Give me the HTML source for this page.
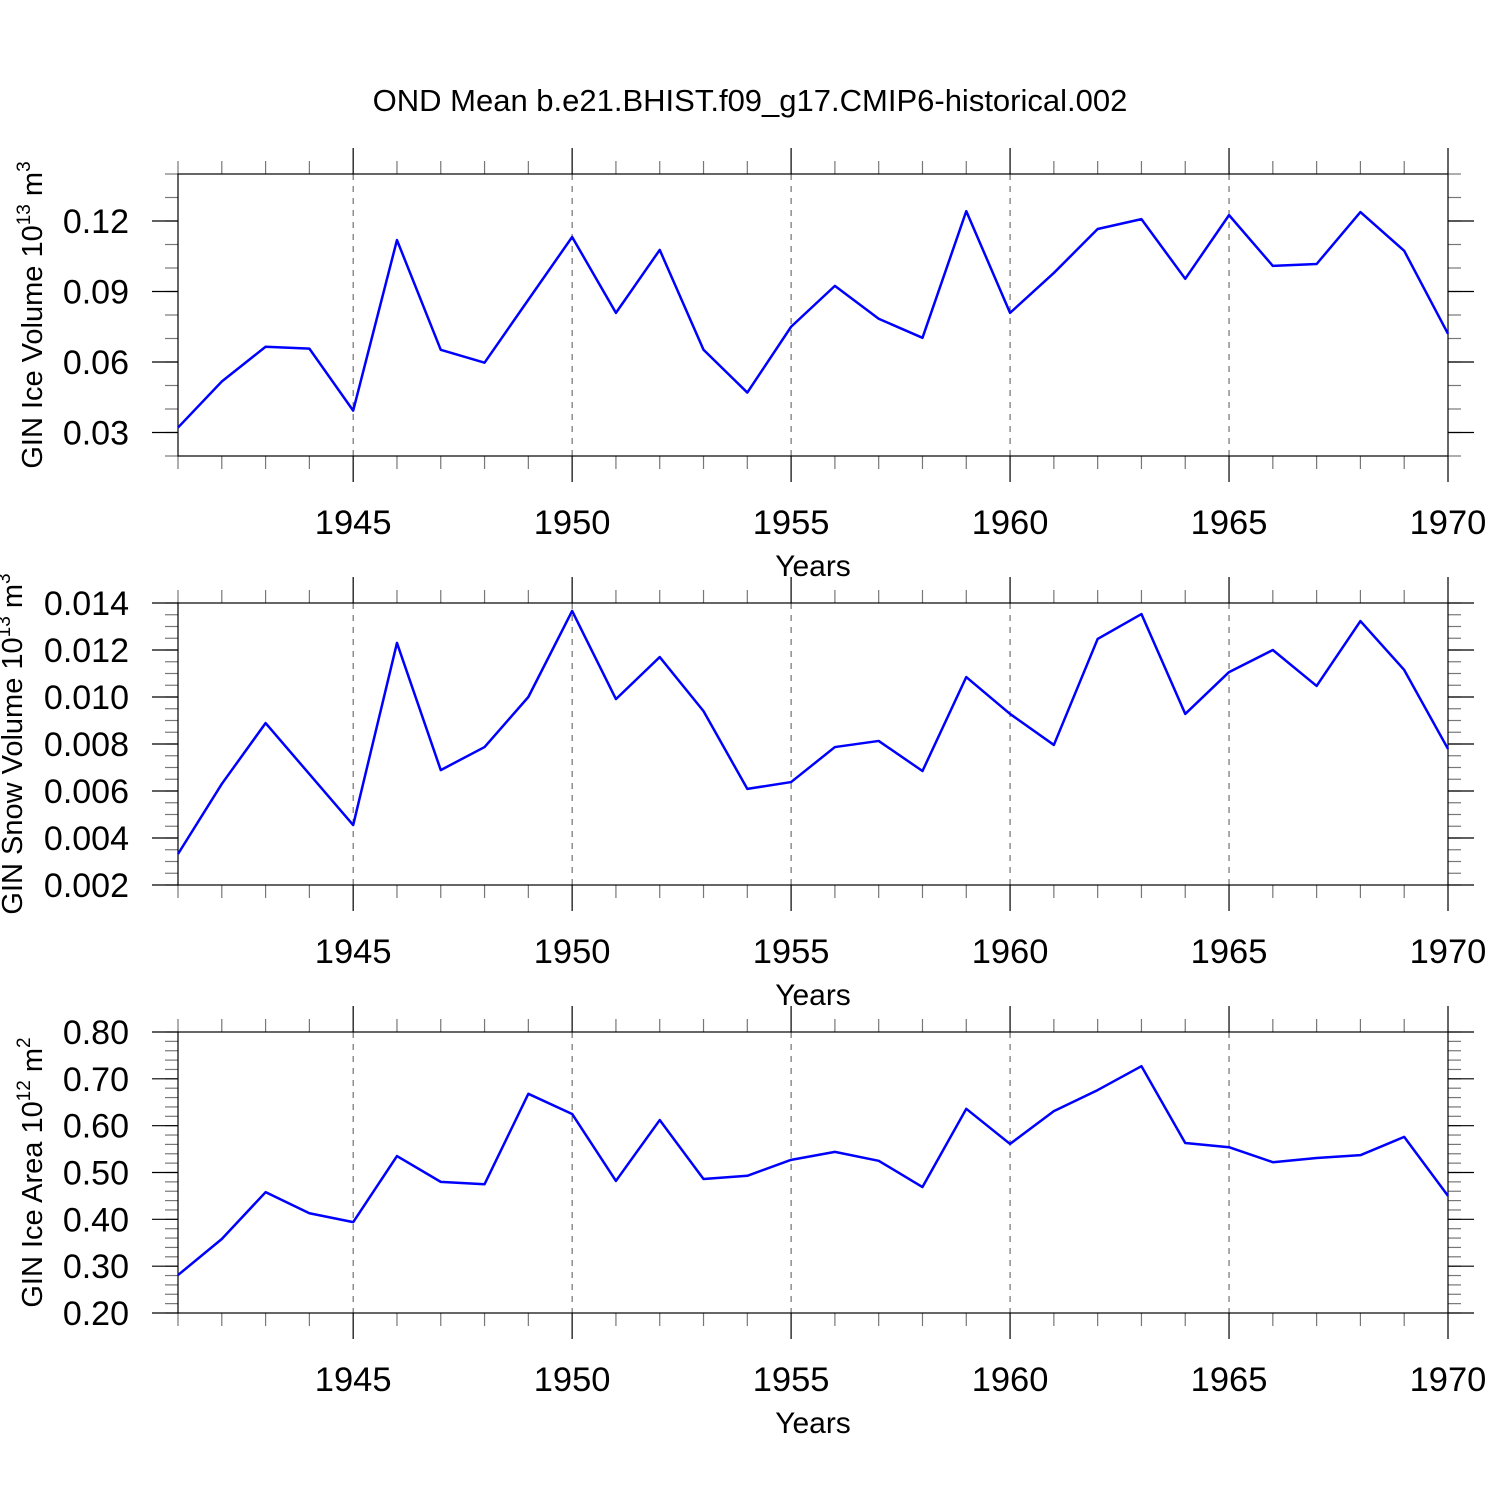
<!DOCTYPE html>
<html><head><meta charset="utf-8"><style>
html,body{margin:0;padding:0;background:#fff;}
svg text{font-family:"Liberation Sans",Arial,sans-serif;fill:#000;}
</style></head><body>
<svg id="chart" width="1500" height="1500" xmlns="http://www.w3.org/2000/svg">
<text x="750" y="111" font-size="31" text-anchor="middle">OND Mean b.e21.BHIST.f09_g17.CMIP6-historical.002</text>
</svg>
<script>
const years = [1941,1942,1943,1944,1945,1946,1947,1948,1949,1950,1951,1952,1953,1954,1955,1956,1957,1958,1959,1960,1961,1962,1963,1964,1965,1966,1967,1968,1969,1970];
const iceVolume = [0.0321,0.0517,0.0665,0.0657,0.0393,0.1119,0.0652,0.0597,0.0865,0.1132,0.0809,0.1077,0.0652,0.0470,0.0750,0.0924,0.0784,0.0703,0.1242,0.0809,0.0979,0.1166,0.1208,0.0954,0.1225,0.1009,0.1017,0.1238,0.1073,0.0720];
const snowVolume = [0.00332,0.00630,0.00889,0.00672,0.00455,0.01230,0.00689,0.00787,0.01000,0.01366,0.00991,0.01170,0.00940,0.00609,0.00638,0.00787,0.00813,0.00685,0.01085,0.00928,0.00796,0.01247,0.01353,0.00928,0.01106,0.01200,0.01047,0.01323,0.01115,0.00779];
const iceArea = [0.281,0.358,0.458,0.413,0.394,0.535,0.480,0.475,0.668,0.625,0.482,0.612,0.486,0.493,0.527,0.544,0.525,0.469,0.636,0.561,0.631,0.676,0.727,0.563,0.554,0.522,0.531,0.537,0.576,0.450];
const xTickLabels = ["1945","1950","1955","1960","1965","1970"];
const iceVolTicks = ["0.03","0.06","0.09","0.12"];
const snowVolTicks = ["0.002","0.004","0.006","0.008","0.010","0.012","0.014"];
const iceAreaTicks = ["0.20","0.30","0.40","0.50","0.60","0.70","0.80"];

const NS="http://www.w3.org/2000/svg";
const svg=document.getElementById('chart');
function mk(tag,attrs,parent){const e=document.createElementNS(NS,tag);for(const k in attrs)e.setAttribute(k,attrs[k]);(parent||svg).appendChild(e);return e;}
const X0=178,X1=1448,yrMin=1941,yrMax=1970;
const xs=y=>X0+(y-yrMin)/(yrMax-yrMin)*(X1-X0);

function panel(name,top,bot,vmin,vmax,ticks,minorStep,data,titleMain,sup,unit,titleSup,titleX){
  const g=mk('g',{});
  
  
  const ys=v=>bot-(v-vmin)/(vmax-vmin)*(bot-top);
  for(let y=1945;y<=1965;y+=5){
    const l=mk('line',{x1:xs(y),x2:xs(y),y1:top,y2:bot,stroke:'#555','stroke-width':1,'stroke-dasharray':'6,6'},g);
    
    
  }
  for(let y=yrMin;y<=yrMax;y++){
    const maj=(y%5===0);const L=maj?26:13;
    mk('line',{x1:xs(y),x2:xs(y),y1:top-L,y2:top,stroke:maj?'#000':'#777','stroke-width':1.2},g);
    mk('line',{x1:xs(y),x2:xs(y),y1:bot,y2:bot+L,stroke:maj?'#000':'#777','stroke-width':1.2},g);
  }
  xTickLabels.forEach(t=>{
    const tx=mk('text',{x:xs(+t),y:bot+78,'font-size':34.5,'text-anchor':'middle'},g);
    tx.textContent=t;
    
    
  });
  const xt=mk('text',{x:813,y:bot+120,'font-size':30,'text-anchor':'middle'},g);
  xt.textContent='Years';
  
  
  const n=Math.round((vmax-vmin)/minorStep);
  for(let i=0;i<=n;i++){
    const yy=ys(vmin+i*minorStep);
    mk('line',{x1:X0-13,x2:X0,y1:yy,y2:yy,stroke:'#777','stroke-width':1.2},g);
    mk('line',{x1:X1,x2:X1+13,y1:yy,y2:yy,stroke:'#777','stroke-width':1.2},g);
  }
  ticks.forEach(t=>{
    const yy=ys(+t);
    mk('line',{x1:X0-26,x2:X0,y1:yy,y2:yy,stroke:'#000','stroke-width':1.2},g);
    mk('line',{x1:X1,x2:X1+26,y1:yy,y2:yy,stroke:'#000','stroke-width':1.2},g);
    const tx=mk('text',{x:129,y:yy+12,'font-size':34,'text-anchor':'end'},g);
    tx.textContent=t;
    
    
  });
  mk('rect',{x:X0,y:top,width:X1-X0,height:bot-top,fill:'none',stroke:'#000','stroke-width':1.2},g);
  const pts=data.map((v,i)=>xs(years[i])+','+ys(v)).join(' ');
  const pl=mk('polyline',{points:pts,fill:'none',stroke:'#0000ff','stroke-width':2.5,'stroke-linejoin':'round'},g);
  
  
  const cy=(top+bot)/2;
  const yt=mk('text',{x:0,y:0,'font-size':29,'text-anchor':'middle',transform:`translate(${titleX},${cy}) rotate(-90)`},g);
  
  
  const a=document.createElementNS(NS,'tspan');a.textContent=titleMain+' 10';yt.appendChild(a);
  const b=document.createElementNS(NS,'tspan');b.setAttribute('dy','-12');b.setAttribute('font-size','19');b.textContent=sup;yt.appendChild(b);
  const c=document.createElementNS(NS,'tspan');c.setAttribute('dy','12');c.textContent=' '+unit;yt.appendChild(c);
  const d=document.createElementNS(NS,'tspan');d.setAttribute('dy','-12');d.setAttribute('font-size','19');d.textContent=titleSup;yt.appendChild(d);
}
panel('ice-volume',174,456,0.02,0.14,iceVolTicks,0.01,iceVolume,'GIN Ice Volume','13','m','3',42);
panel('snow-volume',603,885,0.002,0.014,snowVolTicks,0.0005,snowVolume,'GIN Snow Volume','13','m','3',22);
panel('ice-area',1032,1313,0.2,0.8,iceAreaTicks,0.02,iceArea,'GIN Ice Area','12','m','2',42);
</script>
</body></html>
